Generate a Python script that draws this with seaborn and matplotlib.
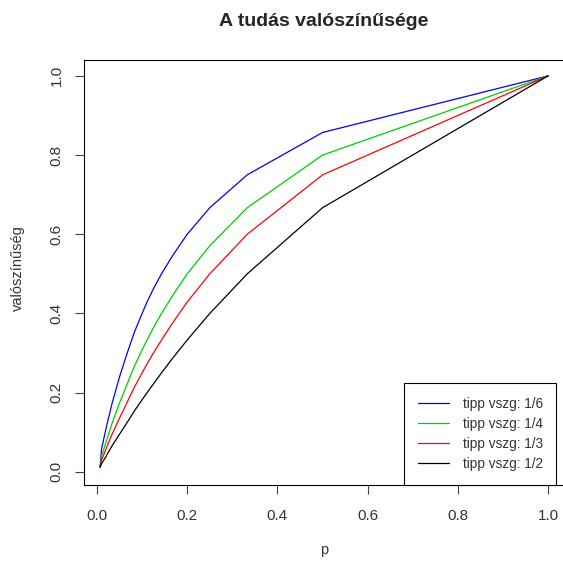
import numpy as np
import pandas as pd
import matplotlib
matplotlib.use("Agg")
import matplotlib.pyplot as plt
from matplotlib.lines import Line2D
import seaborn as sns

# p values (1/k) and probability of knowing for each guess rate
p = [1.0, 0.5, 0.333, 0.25, 0.2, 0.167, 0.143, 0.125, 0.111, 0.1,
     0.083, 0.067, 0.05, 0.033, 0.02, 0.01, 0.007]
y_1_6 = [1.0, 0.857, 0.75, 0.667, 0.6, 0.545, 0.5, 0.462, 0.429, 0.4,
         0.353, 0.3, 0.24, 0.171, 0.109, 0.057, 0.012]
y_1_4 = [1.0, 0.8, 0.667, 0.571, 0.5, 0.444, 0.4, 0.364, 0.333, 0.308,
         0.267, 0.222, 0.174, 0.121, 0.075, 0.039, 0.012]
y_1_3 = [1.0, 0.75, 0.6, 0.5, 0.429, 0.375, 0.333, 0.3, 0.273, 0.25,
         0.214, 0.176, 0.136, 0.094, 0.058, 0.029, 0.012]
y_1_2 = [1.0, 0.667, 0.5, 0.4, 0.333, 0.286, 0.25, 0.222, 0.2, 0.182,
         0.154, 0.125, 0.095, 0.065, 0.039, 0.02, 0.012]
labels = ["tipp vszg: 1/6", "tipp vszg: 1/4", "tipp vszg: 1/3", "tipp vszg: 1/2"]
colors = ["#0000FF", "#00CD00", "#FF0000", "#000000"]
ticks = [0.0, 0.2, 0.4, 0.6, 0.8, 1.0]
tick_labels = ["0.0", "0.2", "0.4", "0.6", "0.8", "1.0"]

frames = []
for lab, vals in zip(labels, [y_1_6, y_1_4, y_1_3, y_1_2]):
    frames.append(pd.DataFrame({"p": p, "val": vals, "serie": lab}))
df = pd.concat(frames, ignore_index=True)

sns.set_style("ticks")
plt.rcParams["font.family"] = ["Liberation Sans", "DejaVu Sans"]
txt = "#333333"

fig = plt.figure(figsize=(5.63, 5.63), dpi=100)
ax = fig.add_axes([83.6 / 563, 1 - 485 / 563, (566 - 83.6) / 563, (485 - 60) / 563])

sns.lineplot(data=df, x="p", y="val", hue="serie", palette=colors,
             hue_order=labels, sort=False, estimator=None, linewidth=0.9,
             ax=ax, legend=False)

ax.set_xlim(-0.0296, 1.0396)
ax.set_ylim(-0.033, 1.04)
ax.set_xticks(ticks)
ax.set_yticks(ticks)
ax.set_xticklabels(tick_labels, fontsize=11, color=txt)
ax.set_yticklabels(tick_labels, fontsize=11, rotation=90, va="center", color=txt)
ax.tick_params(axis="x", direction="out", length=6.5, width=0.8,
               color="#444444", pad=11)
ax.tick_params(axis="y", direction="out", length=6.5, width=0.8,
               color="#444444", pad=8)
for s in ax.spines.values():
    s.set_visible(True)
    s.set_color("black")
    s.set_linewidth(0.8)

ax.set_xlabel("")
ax.set_ylabel("")
fig.text(324 / 563, 1 - 550 / 563, "p", ha="center", va="center",
         fontsize=10.5, color=txt)
fig.text(18 / 563, 1 - 268 / 563, "valószínűség", ha="center", va="center",
         rotation=90, fontsize=10.5, color=txt)
fig.text(324 / 563, 1 - 22 / 563, "A tudás valószínűsége", ha="center",
         va="center", fontsize=14, fontweight="bold")

handles = [Line2D([0], [0], color=c, lw=0.9) for c in colors]
leg = ax.legend(handles, labels, loc="upper left",
                bbox_to_anchor=(404 / 563, 1 - 383 / 563),
                bbox_transform=fig.transFigure, borderaxespad=0,
                fontsize=9.8, handlelength=2.3, handletextpad=1.0,
                borderpad=1.0, labelspacing=0.45, fancybox=False,
                framealpha=1, edgecolor="black")
leg.get_frame().set_linewidth(0.8)
for t in leg.get_texts():
    t.set_color(txt)

fig.savefig("out.png", dpi=100)
